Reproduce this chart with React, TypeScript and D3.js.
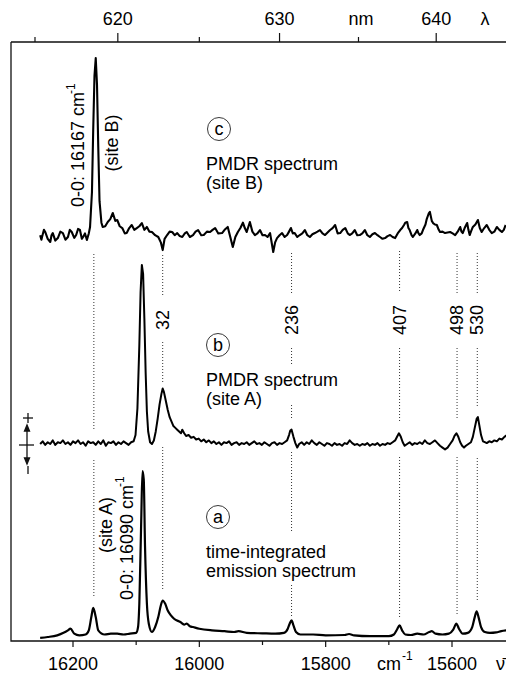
import React from 'react';
import * as d3 from 'd3';

// wavenumber (cm-1), intensity (arb., 100 = strongest peak of the trace)
const emissionA: [number, number][] = [
  [16252, -0.5], [16240, 0], [16225, 1], [16215, 2.5], [16208, 4], [16204, 5], [16198, 2], [16190, 1],
  [16180, 1.5], [16175, 4], [16171, 12], [16168, 17.5], [16164, 12], [16160, 4], [16150, 1.5], [16140, 2],
  [16130, 2], [16120, 1.5], [16110, 2], [16100, 2.5], [16097, 6], [16095, 20], [16092, 70], [16090, 100],
  [16088, 95], [16086, 55], [16083, 20], [16080, 8], [16075, 3], [16070, 6], [16065, 12], [16061, 19],
  [16058, 22], [16054, 20], [16050, 16], [16045, 13], [16040, 11], [16030, 9], [16024, 7.5], [16020, 8],
  [16015, 6.5], [16010, 6], [16000, 5], [15980, 4], [15960, 3.5], [15945, 3], [15938, 3.5], [15925, 2.5],
  [15900, 2.2], [15880, 2], [15866, 2.5], [15860, 5], [15857, 8], [15854, 10], [15851, 7], [15847, 3],
  [15840, 1.5], [15820, 1.5], [15800, 1], [15770, 1.2], [15763, 1.8], [15755, 1], [15730, 0.5], [15700, 0.5],
  [15692, 1.5], [15687, 4.5], [15683, 7], [15679, 4], [15674, 1.5], [15665, 1.2], [15655, 2], [15645, 1.5],
  [15636, 3], [15632, 3.5], [15626, 2], [15615, 1.5], [15605, 2], [15598, 4.5], [15593, 8], [15589, 5],
  [15583, 2], [15575, 2.5], [15568, 6], [15564, 12], [15561, 15.5], [15558, 12], [15554, 6], [15548, 3],
  [15540, 2.5], [15530, 2.8], [15522, 3.5], [15513, 4]
];

const pmdrA: [number, number][] = [
  [16252, 0], [16248, 1.5], [16244, -0.5], [16240, 1], [16236, 0], [16232, 2], [16228, -0.5], [16224, 1],
  [16220, 0.5], [16216, 2], [16212, 0], [16208, 1], [16204, -0.5], [16200, 1.5], [16196, 0.5], [16192, 2],
  [16188, 0], [16184, 1], [16180, -1], [16176, 1.5], [16172, 0.5], [16168, 1], [16164, -0.5], [16160, 1.5],
  [16156, 0], [16152, 2], [16148, -1], [16144, 1], [16140, 0.5], [16136, 1.5], [16132, -0.5], [16128, 1],
  [16124, 0], [16120, 1.5], [16116, 0.5], [16112, -0.5], [16108, 1], [16104, 1.5], [16101, 5], [16098, 20],
  [16095, 55], [16093, 85], [16091, 100], [16089, 95], [16087, 70], [16085, 40], [16083, 18], [16081, 7],
  [16078, 1], [16075, 0], [16072, 2], [16069, 7], [16066, 14], [16063, 22], [16060, 28], [16058, 31],
  [16056, 29], [16053, 24], [16050, 19], [16047, 15], [16044, 12.5], [16041, 10], [16038, 9], [16035, 8],
  [16032, 7], [16029, 6], [16027, 8], [16024, 6], [16021, 4.5], [16017, 5], [16013, 3.5], [16009, 4],
  [16005, 2.5], [16001, 3], [15997, 1.5], [15993, 2.5], [15989, 1], [15985, 2], [15981, 0.5], [15977, 1.5],
  [15973, 0], [15969, 1], [15965, -0.5], [15961, 1], [15957, 0.5], [15953, 1.5], [15949, -0.5], [15945, 0.5],
  [15941, 1], [15937, -0.5], [15933, 0.5], [15929, 0], [15925, 1], [15921, -0.5], [15917, 0.5], [15913, 1.5],
  [15909, 0], [15905, 0.5], [15901, -0.5], [15897, 1], [15893, 0], [15889, -1], [15885, 0.5], [15881, 1],
  [15877, -0.5], [15873, 0.5], [15869, 0], [15865, 1], [15861, 2], [15858, 5], [15856, 7.5], [15854, 8],
  [15851, 4], [15848, 0.5], [15845, -2], [15842, 0], [15838, 1], [15834, -0.5], [15830, 1], [15826, 0],
  [15822, 2], [15818, 0.5], [15814, -0.5], [15810, 1], [15806, 0], [15802, -1], [15798, 0.5], [15794, 0],
  [15790, -1], [15786, 0.5], [15782, -0.5], [15778, 0], [15774, -1], [15770, 0.5], [15766, 0], [15762, 2],
  [15758, 0.5], [15754, -0.5], [15750, 0], [15746, -1], [15742, 0], [15738, -0.5], [15734, 0.5], [15730, -1],
  [15726, 0], [15722, -0.5], [15718, 0.5], [15714, -1], [15710, 0], [15706, -0.5], [15702, 0.5], [15698, 0],
  [15694, 1], [15690, 2], [15687, 4], [15684, 6], [15681, 4], [15678, 1], [15675, -1], [15671, 0],
  [15667, 1], [15663, -0.5], [15659, 0.5], [15655, 0], [15651, 1], [15647, 0], [15643, 2], [15639, 0.5],
  [15635, 0], [15631, 1], [15627, 2], [15623, 0.5], [15619, -1], [15615, -2], [15611, -3], [15607, -2],
  [15603, 0], [15599, 2], [15596, 4.5], [15593, 6], [15590, 4], [15587, 1], [15584, -1], [15581, -2],
  [15578, -1], [15574, 0], [15570, 1], [15567, 4], [15564, 9], [15561, 14], [15559, 15], [15557, 11],
  [15554, 5], [15551, 1.5], [15548, 1], [15545, 0.5], [15541, 1.5], [15537, 1], [15533, 2], [15529, 1.5],
  [15525, 3], [15521, 2.5], [15517, 4], [15513, 5]
];

const pmdrB: [number, number][] = [
  [16252, 1], [16250, -1.5], [16249, 0], [16246, 4], [16244, 2.8], [16240, -1], [16236, -2.8], [16234, 1],
  [16232, 2.2], [16228, -2], [16224, -0.6], [16220, 3], [16216, 2.2], [16212, -1.5], [16208, 0], [16205, 4],
  [16202, 2.8], [16198, -0.5], [16195, 1.1], [16192, 4.5], [16189, 3.9], [16186, -1], [16184, 0], [16181, 2],
  [16178, -1.7], [16175, 2], [16173, 5.6], [16170, 25], [16168, 60], [16166, 90], [16164, 100], [16162, 85],
  [16160, 50], [16158, 20], [16155, 8], [16153, 5.6], [16149, 6], [16145, 8.4], [16141, 10], [16137, 13.4],
  [16133, 9], [16130, 9.5], [16126, 6], [16122, 5], [16118, 2], [16115, 2.2], [16111, 5], [16107, 6.7],
  [16103, 4], [16099, 5], [16095, 6], [16091, 7.8], [16087, 4], [16083, 5.6], [16079, 3], [16075, 2.8],
  [16070, 1], [16065, 0], [16061, -3], [16058, -7.3], [16055, -1], [16051, 1.1], [16047, 3], [16043, 2.8],
  [16039, 1], [16035, 2.2], [16031, 0.5], [16027, 0], [16023, 2], [16020, 2.8], [16015, 0], [16010, 1.1],
  [16006, 3], [16002, 3.9], [15997, 1], [15993, 1.1], [15988, 3], [15983, 2.8], [15979, 4], [15975, 5],
  [15970, 2], [15964, 2.2], [15960, 4], [15955, 5.6], [15951, 0], [15947, -5.6], [15943, 0], [15939, 2.8],
  [15935, 5], [15931, 8], [15928, 5], [15925, 2.8], [15920, 8.4], [15916, 3], [15912, 1.1], [15908, 2],
  [15904, 3.9], [15900, 1], [15896, 1.1], [15892, 0], [15888, 2.2], [15883, -8.4], [15880, -3], [15877, -0.6],
  [15873, 1], [15869, 2.2], [15865, 0], [15861, 1.1], [15858, 3], [15855, 5], [15852, 2], [15849, 2.2],
  [15845, 0], [15841, 1.1], [15837, 2], [15833, 3.9], [15829, 1], [15825, 0], [15821, 1.5], [15817, 2.2],
  [15813, 3], [15809, 3.9], [15805, 2], [15801, 1.1], [15797, 2.5], [15793, 3.9], [15789, 5], [15785, 6.7],
  [15781, 2], [15777, 2.2], [15773, 4], [15769, 5], [15765, 2], [15762, 1.1], [15758, 2], [15754, 3.9],
  [15750, 1], [15746, 1.1], [15742, 2], [15738, 3.9], [15734, 1], [15730, 0], [15726, 1.5], [15722, 2.2],
  [15718, 1], [15714, 0], [15710, -1], [15706, -0.6], [15702, 0.5], [15698, 1.1], [15694, 0], [15690, -0.6],
  [15686, 2], [15682, 3.9], [15679, 5], [15676, 6.7], [15674, 8], [15671, 8.4], [15669, 5], [15667, 3.9],
  [15664, 1], [15662, 0], [15658, 2], [15655, 3.9], [15653, 2], [15651, 1.1], [15648, 2], [15646, 3.9],
  [15642, 7], [15640, 10], [15637, 13], [15635, 14], [15632, 9], [15630, 7.8], [15627, 7], [15624, 6.7],
  [15621, 4], [15619, 2.8], [15615, 3], [15611, 2.2], [15607, 2.5], [15603, 2.8], [15599, 2], [15595, 1.1],
  [15591, 3], [15587, 5.6], [15585, 3], [15583, 2.2], [15580, 5], [15576, 7.8], [15574, 4], [15572, 1.1],
  [15570, 3], [15567, 5.6], [15563, 7], [15559, 9.5], [15556, 5], [15553, 2.8], [15549, 5], [15545, 6.7],
  [15541, 4], [15537, 2.2], [15533, 3], [15529, 5.6], [15525, 4], [15521, 2.8], [15518, 4], [15515, 6.7]
];

const originA = 16090;
const originB = 16167;
const vibOffsets = [32, 236, 407, 498, 530];
const cmTicks = [16200, 16000, 15800, 15600];
const cmMinor = [16100, 15900, 15700, 15500];
const nmTicks = [620, 630, 640];
const nmMinor = [615, 625, 635];

// where the dotted guide lines are broken (screen y)
const guideGaps: Record<string, [number, number][]> = {
  B: [[254, 430], [460, 597]],
  '32': [[255, 295], [342, 383], [447, 590]],
  '236': [[253, 293], [348, 365], [405, 420], [452, 533], [585, 617]],
  '407': [[251, 293], [348, 422], [457, 617]],
  '498': [[253, 293], [348, 420], [457, 615]],
  '530': [[253, 293], [348, 407], [458, 600]]
};

const font = '"Liberation Sans", Arial, Helvetica, sans-serif';

export default function App()
{
  const x = d3.scaleLinear().domain([16200, 15600]).range([73, 452]);
  const ya = d3.scaleLinear().domain([0, 100]).range([637, 471]);
  const yb = d3.scaleLinear().domain([0, 100]).range([444, 265]);
  const yc = d3.scaleLinear().domain([0, 100]).range([237, 58]);

  const lineA = d3.line<[number, number]>().x(d => x(d[0])).y(d => ya(d[1])).curve(d3.curveMonotoneX);
  const lineB = d3.line<[number, number]>().x(d => x(d[0])).y(d => yb(d[1]));
  const lineC = d3.line<[number, number]>().x(d => x(d[0])).y(d => yc(d[1]));

  const top = 42, bottom = 641, left = 11;

  const guides = [{key: 'B', nu: originB}].concat(vibOffsets.map(o => ({key: String(o), nu: originA - o})));

  const label = (cx: number, cy: number, letter: string, l1: string, l2: string) => (
    <g>
      <circle cx={cx} cy={cy} r={11.5} fill="none" stroke="#222" strokeWidth={0.9}/>
      <text x={cx} y={cy + 6} textAnchor="middle" fontSize={18}>{letter}</text>
      <text x={206} y={cy + 41} fontSize={18}>{l1}</text>
      <text x={206} y={cy + 60} fontSize={18}>{l2}</text>
    </g>
  );

  return (
    <div style={{position: 'absolute', left: 0, top: 0}}>
      <svg width={506} height={673} style={{display: 'block', background: '#fff'}} fontFamily={font}>
        {/* frame */}
        <path d={`M${left},${top}H530M${left},${top}V${bottom}H530`} fill="none" stroke="#111" strokeWidth={1.3}/>

        {/* top wavelength axis */}
        {nmTicks.map(n => (
          <g key={n}>
            <line x1={x(1e7 / n)} x2={x(1e7 / n)} y1={top} y2={top - 9} stroke="#111" strokeWidth={1.2}/>
            <text x={x(1e7 / n)} y={25} textAnchor="middle" fontSize={18}>{n}</text>
          </g>
        ))}
        {nmMinor.map(n => (
          <line key={n} x1={x(1e7 / n)} x2={x(1e7 / n)} y1={top} y2={top - 5} stroke="#111" strokeWidth={1.2}/>
        ))}
        <text x={361} y={25} textAnchor="middle" fontSize={18}>nm</text>
        <text x={485} y={25} textAnchor="middle" fontSize={18}>λ</text>

        {/* bottom wavenumber axis */}
        {cmTicks.map(c => (
          <g key={c}>
            <line x1={x(c)} x2={x(c)} y1={bottom} y2={bottom + 6} stroke="#111" strokeWidth={1.2}/>
            <text x={x(c)} y={670} textAnchor="middle" fontSize={18}>{c}</text>
          </g>
        ))}
        {cmMinor.map(c => (
          <line key={c} x1={x(c)} x2={x(c)} y1={bottom} y2={bottom + 4} stroke="#111" strokeWidth={1.2}/>
        ))}
        <text x={377} y={670} fontSize={18}>cm<tspan dx={1} dy={-10} fontSize={12}>-1</tspan></text>
        <text x={496} y={670} fontSize={18}>{'\u03BD\u0304'}</text>

        {/* dotted guides */}
        {guides.map(g => guideGaps[g.key].map((s, i) => (
          <line key={g.key + i} x1={x(g.nu)} x2={x(g.nu)} y1={s[0]} y2={s[1]}
                stroke="#333" strokeWidth={1} strokeDasharray="1 2"/>
        )))}
        {vibOffsets.map(o => (
          <text key={o} transform={`translate(${x(originA - o) + 6},320) rotate(-90)`}
                textAnchor="middle" fontSize={18}>{o}</text>
        ))}

        {/* spectra */}
        <path d={lineC(pmdrB) || ''} fill="none" stroke="#000" strokeWidth={2.1} strokeLinejoin="round"/>
        <path d={lineB(pmdrA) || ''} fill="none" stroke="#000" strokeWidth={2} strokeLinejoin="round"/>
        <path d={lineA(emissionA) || ''} fill="none" stroke="#000" strokeWidth={2.2} strokeLinejoin="round"/>

        {/* origin labels */}
        <text transform="translate(84,207) rotate(-90)" fontSize={18}>
          0-0: {originB} cm<tspan dx={-2} dy={-9} fontSize={12}>-1</tspan>
        </text>
        <text transform="translate(118,143) rotate(-90)" textAnchor="middle" fontSize={18}>(site B)</text>
        <text transform="translate(133,600) rotate(-90)" fontSize={18}>
          0-0: {originA} cm<tspan dx={-2} dy={-9} fontSize={12}>-1</tspan>
        </text>
        <text transform="translate(112,525) rotate(-90)" textAnchor="middle" fontSize={18}>(site A)</text>

        {label(219, 129, 'c', 'PMDR spectrum', '(site B)')}
        {label(218, 345, 'b', 'PMDR spectrum', '(site A)')}
        {label(218, 517, 'a', 'time-integrated', 'emission spectrum')}

        {/* sign marker */}
        <g stroke="#111" strokeWidth={1.3} fill="#111">
          <line x1={23} x2={33} y1={418} y2={418}/>
          <line x1={28} x2={28} y1={413} y2={423}/>
          <line x1={27} x2={27} y1={428} y2={461}/>
          <path d="M27,425L24.5,431H29.5Z"/>
          <path d="M27,464L24.5,458H29.5Z"/>
          <line x1={19} x2={34} y1={445} y2={445}/>
          <line x1={28} x2={28} y1={466} y2={474}/>
        </g>
      </svg>
    </div>
  );
}
